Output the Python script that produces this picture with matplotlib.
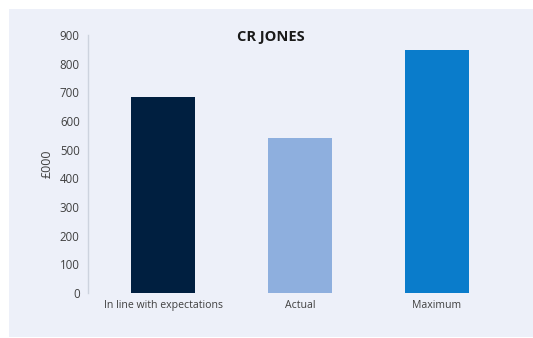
import matplotlib
matplotlib.use("Agg")
import matplotlib.pyplot as plt
from matplotlib.patches import Rectangle

categories = ["In line with expectations", "Actual", "Maximum"]
values = [684, 541, 848]
colors = ["#001F40", "#8EAFDE", "#0A7CCB"]
yticks = [0, 100, 200, 300, 400, 500, 600, 700, 800, 900]

plt.rcParams['font.family'] = ['Open Sans', 'DejaVu Sans']

W, H = 533, 338
fig = plt.figure(figsize=(W/100, H/100), dpi=100)
fig.patch.set_facecolor("white")
bg = "#EDF0F9"
fig.patches.append(Rectangle((9/W, 1 - 337/H), (W-9)/W, (337-9)/H,
                             transform=fig.transFigure, facecolor=bg,
                             edgecolor="none", zorder=-10))

ax = fig.add_axes([88/W, 1 - 293/H, (512-88)/W, (293-35)/H])
ax.set_zorder(5)
ax.set_facecolor(bg)
x = list(range(len(categories)))
ax.bar(x, values, width=0.47, color=colors)
ax.set_xlim(-0.55, 2.55)
ax.set_ylim(0, 900)
ax.set_yticks(yticks)
ax.set_yticklabels([str(v) for v in yticks], fontsize=8.3, color="#404040")
ax.set_xticks(x)
ax.set_xticklabels(categories, fontsize=7.6, color="#404040")
ax.tick_params(axis='y', length=0, pad=6)
ax.tick_params(axis='x', length=0, pad=5)
for s in ["top", "right", "bottom"]:
    ax.spines[s].set_visible(False)
ax.spines["left"].set_color("#CDD3DE")
ax.spines["left"].set_linewidth(1)
ax.set_ylabel("£000", fontsize=9, color="#404040", labelpad=4)

t = fig.text(271/W, 1 - 37/H, "CR JONES", fontsize=10.5, fontweight="bold",
             color="#1A1A1A", ha="center", va="center")
t.set_zorder(10)

fig.savefig("out.png", dpi=100, facecolor=fig.get_facecolor())
